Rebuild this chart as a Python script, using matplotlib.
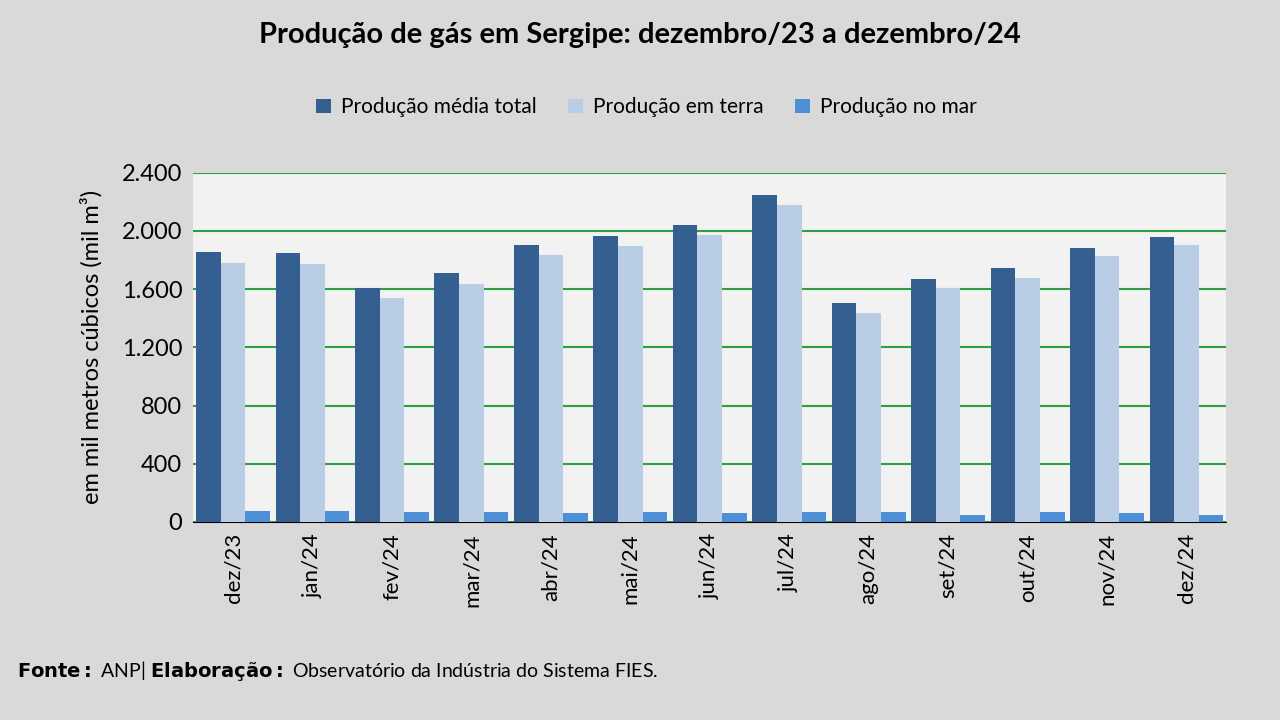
import matplotlib.pyplot as plt
import numpy as np

meses = ["dez/23", "jan/24", "fev/24", "mar/24", "abr/24", "mai/24", "jun/24",
         "jul/24", "ago/24", "set/24", "out/24", "nov/24", "dez/24"]
total = [1857, 1850, 1609, 1712, 1905, 1967, 2042, 2249, 1506, 1671, 1747, 1884, 1960]
terra = [1781, 1774, 1540, 1637, 1836, 1898, 1974, 2180, 1437, 1609, 1678, 1829, 1905]
mar = [76, 76, 70, 70, 60, 70, 60, 70, 70, 50, 70, 60, 50]

plt.rcParams['font.family'] = ['Lato', 'DejaVu Sans']

fig = plt.figure(figsize=(12.8, 7.2), dpi=100, facecolor="#d9d9d9")
ax = fig.add_axes([0.151, 0.275, 0.807, 0.485])
ax.set_facecolor("#f2f2f2")

x = np.arange(len(meses))
w = 0.31
ax.bar(x - w, total, w, color="#355f91", label="Produção média total", zorder=3)
ax.bar(x, terra, w, color="#b9cde5", label="Produção em terra", zorder=3)
ax.bar(x + w, mar, w, color="#4f8fd6", label="Produção no mar", zorder=3)

ax.set_xlim(-0.5, len(meses) - 0.5)
ax.set_ylim(0, 2400)
ax.set_yticks(range(0, 2401, 400))
ax.set_yticklabels([f"{v:,}".replace(",", ".") for v in range(0, 2401, 400)], fontsize=17)
ax.yaxis.grid(True, color="#2ea043", linewidth=1.5, zorder=0)
ax.set_xticks(x)
ax.set_xticklabels(meses, rotation=90, fontsize=16)
ax.tick_params(length=0, pad=8)
for s in ["top", "right", "left"]:
    ax.spines[s].set_visible(False)
ax.spines["bottom"].set_color("black")
ax.set_ylabel("em mil metros cúbicos (mil m³)", fontsize=17, labelpad=14)

fig.text(0.5, 0.94, "Produção de gás em Sergipe: dezembro/23 a dezembro/24",
         ha="center", fontsize=21, fontweight="bold")
fig.legend(loc="center", bbox_to_anchor=(0.505, 0.851), ncol=3, frameon=False,
           fontsize=15, handlelength=0.7, handleheight=0.7, columnspacing=1.5,
           handletextpad=0.5)
fig.text(0.013, 0.06, r"$\bf{Fonte:}$ ANP| $\bf{Elaboração:}$ Observatório da Indústria do Sistema FIES.",
         fontsize=14)

fig.savefig("out.png", facecolor=fig.get_facecolor())
